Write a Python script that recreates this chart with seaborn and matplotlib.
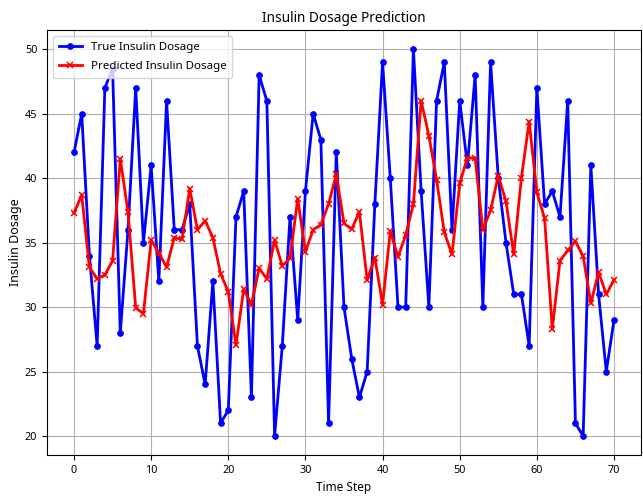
import matplotlib
matplotlib.use("Agg")
import matplotlib.pyplot as plt
import seaborn as sns
import pandas as pd

time_steps = list(range(71))
true_dosage = [42, 45, 34, 27, 47, 48.5, 28, 36, 47, 35,
               41, 32, 46, 36, 36, 38, 27, 24, 32, 21,
               22, 37, 39, 23, 48, 46, 20, 27, 37, 29,
               39, 45, 43, 21, 42, 30, 26, 23, 25, 38,
               49, 40, 30, 30, 50, 39, 30, 46, 49, 36,
               46, 41, 48, 30, 49, 40, 35, 31, 31, 27,
               47, 38, 39, 37, 46, 21, 20, 41, 31, 25, 29]
pred_dosage = [37.3, 38.7, 33.1, 32.2, 32.5, 33.6, 41.5, 37.4, 29.95, 29.5,
               35.2, 34.2, 33.1, 35.4, 35.25, 39.2, 36.0, 36.7, 35.4, 32.6,
               31.2, 27.05, 31.4, 30.2, 33.0, 32.2, 35.2, 33.2, 33.8, 38.4,
               34.3, 36.0, 36.4, 38.0, 40.3, 36.5, 36.05, 37.4, 32.1, 33.85,
               30.2, 35.9, 33.9, 35.6, 38.0, 46.0, 43.3, 39.9, 35.8, 34.1,
               39.6, 41.6, 41.55, 36.0, 37.5, 40.2, 38.2, 34.1, 40.05, 44.4,
               38.9, 36.9, 28.3, 33.6, 34.4, 35.1, 33.95, 30.3, 32.7, 31.0, 32.1]

df = pd.DataFrame({"t": time_steps, "true": true_dosage, "pred": pred_dosage})

plt.rcParams['font.family'] = ['Noto Sans', 'DejaVu Sans']

fig = plt.figure(figsize=(6.43, 4.97), dpi=100)
ax = fig.add_axes([47/643, 42/497, (641-47)/643, (455-30)/497])

sns.lineplot(data=df, x="t", y="true", ax=ax, color="blue", marker="o",
             markersize=4, markeredgecolor="blue", markeredgewidth=0.8,
             linewidth=2, label="True Insulin Dosage")
sns.lineplot(data=df, x="t", y="pred", ax=ax, color="red", marker="x",
             markersize=4, markeredgecolor="red", markeredgewidth=1.1,
             linewidth=2, label="Predicted Insulin Dosage")

ax.set_xlim(-3.5, 73.5)
ax.set_ylim(18.53, 51.5)
ax.set_xticks([0, 10, 20, 30, 40, 50, 60, 70])
ax.set_yticks([20, 25, 30, 35, 40, 45, 50])
ax.grid(True, color="#b0b0b0", linewidth=0.8)
ax.set_axisbelow(True)
ax.tick_params(labelsize=7.8)
ax.set_xlabel("Time Step", fontsize=8.5)
ax.set_ylabel("Insulin Dosage", fontsize=9, labelpad=2)
ax.set_title("Insulin Dosage Prediction", fontsize=9.8)
for s in ax.spines.values():
    s.set_color("black")
ax.legend(loc="upper left", fontsize=8.3, labelspacing=0.75, borderpad=0.5)

fig.savefig("out.png", dpi=100)
